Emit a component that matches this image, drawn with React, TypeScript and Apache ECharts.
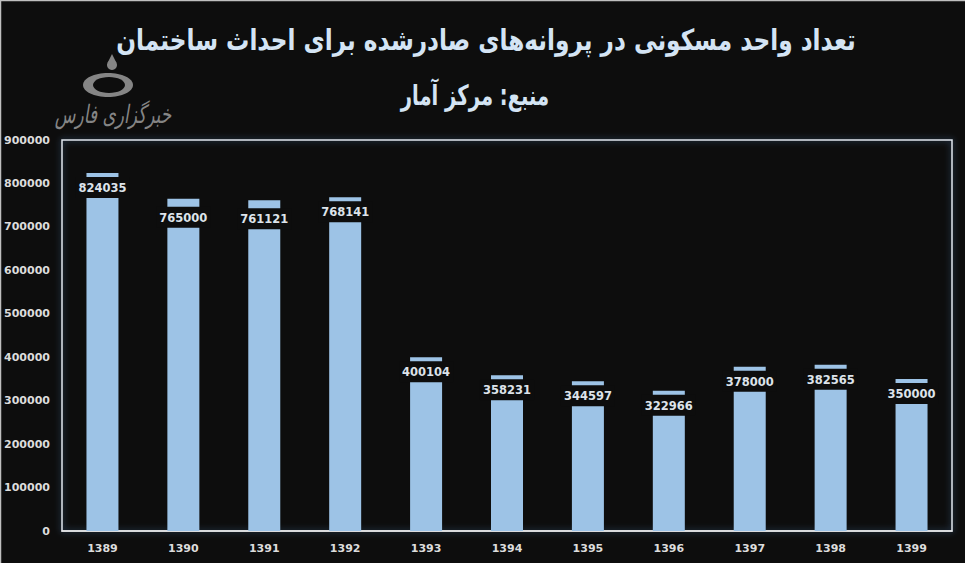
import React, { useEffect, useRef } from "react";
import * as echarts from "echarts";

const categories = ["1389", "1390", "1391", "1392", "1393", "1394", "1395", "1396", "1397", "1398", "1399"];
const values = [824035, 765000, 761121, 768141, 400104, 358231, 344597, 322966, 378000, 382565, 350000];
const titleText = "تعداد واحد مسکونی در پروانه‌های صادرشده برای احداث ساختمان";
const subtitleText = "منبع: مرکز آمار";
const logoText = "خبرگزاری فارس";

export default function App() {
  const ref = useRef<HTMLDivElement>(null);
  useEffect(() => {
    if (!ref.current) return;
    const chart = echarts.init(ref.current, undefined, { renderer: "svg" });
    const deepLabel = new Set([1, 2]);
    const titleStyle = {
      fill: "#d4e4f4",
      fontWeight: "bold",
      fontFamily: "DejaVu Sans",
      align: "center",
      verticalAlign: "middle",
    };
    const option: any = {
      animation: false,
      backgroundColor: "#0d0d0d",
      graphic: [
        { type: "line", shape: { x1: 0, y1: 0.5, x2: 965, y2: 0.5 }, style: { stroke: "#bfbfbf", lineWidth: 1.5 } },
        { type: "line", shape: { x1: 0.5, y1: 0, x2: 0.5, y2: 563 }, style: { stroke: "#bfbfbf", lineWidth: 1.5 } },
        {
          type: "text",
          x: 486,
          y: 40,
          scaleX: 0.8,
          style: { ...titleStyle, text: titleText, fontSize: 29 },
        },
        {
          type: "text",
          x: 475,
          y: 96,
          scaleX: 0.7,
          style: { ...titleStyle, text: subtitleText, fontSize: 28 },
        },
        { type: "ellipse", shape: { cx: 108, cy: 85, rx: 25, ry: 12 }, style: { fill: "#858585" } },
        { type: "ellipse", shape: { cx: 109, cy: 85, rx: 16, ry: 8 }, style: { fill: "#0d0d0d" } },
        { type: "circle", shape: { cx: 112, cy: 65, r: 5 }, style: { fill: "#858585" } },
        { type: "polygon", shape: { points: [[107.5, 63], [116.5, 63], [112, 54]] }, style: { fill: "#858585" } },
        {
          type: "text",
          x: 113,
          y: 114,
          scaleY: 1.5,
          style: {
            text: logoText,
            fill: "#858585",
            fontSize: 17,
            fontStyle: "italic",
            fontFamily: "DejaVu Sans",
            align: "center",
            verticalAlign: "middle",
          },
        },
      ],
      grid: {
        left: 62,
        right: 13,
        top: 140,
        bottom: 32,
        show: true,
        borderColor: "#dfe6ee",
        borderWidth: 1.5,
        shadowColor: "rgba(90,150,220,0.6)",
        shadowBlur: 6,
      },
      xAxis: {
        type: "category",
        data: categories,
        axisLine: { lineStyle: { color: "#e8e8e8", width: 1.5 } },
        axisTick: { show: false },
        axisLabel: { color: "#dcdcdc", fontSize: 11, fontWeight: "bold", fontFamily: "DejaVu Sans", margin: 12 },
      },
      yAxis: {
        type: "value",
        min: 0,
        max: 900000,
        interval: 100000,
        axisLine: { show: false },
        axisTick: { show: false },
        splitLine: { show: false },
        axisLabel: {
          color: "#dcdcdc",
          fontSize: 11,
          fontWeight: "bold",
          fontFamily: "DejaVu Sans",
          margin: 12,
          formatter: (v: number) => String(v),
        },
      },
      series: [
        {
          type: "bar",
          barWidth: 32,
          itemStyle: { color: "#9dc3e6" },
          data: values.map((v, i) => ({
            value: v,
            label: { distance: deepLabel.has(i) ? 8 : 4 },
          })),
          label: {
            show: true,
            position: "insideTop",
            distance: 4,
            color: "#dde3ea",
            fontSize: 11.5,
            fontWeight: "bold",
            fontFamily: "DejaVu Sans",
            backgroundColor: "#0d0d0d",
            padding: [5, 3, 4, 3],
          },
        },
      ],
    };
    chart.setOption(option);
    return () => chart.dispose();
  }, []);
  return <div ref={ref} style={{ position: "fixed", left: 0, top: 0, width: 965, height: 563 }} />;
}
